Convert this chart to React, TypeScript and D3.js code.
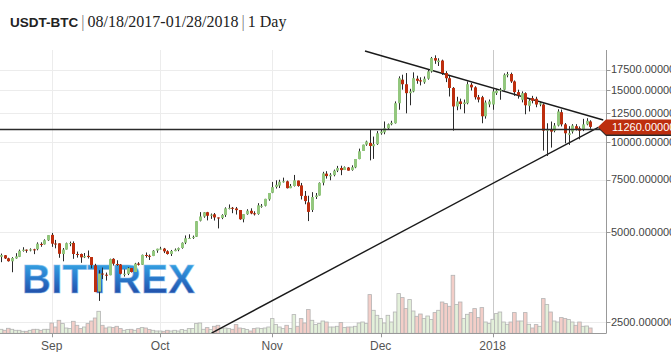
import React from "react";
import * as d3 from "d3";

const startDate = new Date(2017, 7, 18);

const open = [
  4138, 4189, 4090, 3998, 4089, 4138, 4333, 4372, 4346, 4384,
  4389, 4570, 4556, 4702, 4901, 4585, 4592, 4228, 4377, 4589,
  4605, 4230, 4229, 4122, 4169, 4132, 3875, 3166, 3638, 3606,
  3591, 4074, 3916, 3901, 3628, 3630, 3796, 3682, 3928, 3892,
  4197, 4172, 4166, 4341, 4396, 4408, 4319, 4230, 4324, 4369,
  4430, 4615, 4776, 4789, 4830, 5464, 5644, 5836, 5688, 5742,
  5604, 5584, 5708, 5997, 6037, 6006, 5936, 5525, 5748, 5900,
  5788, 5754, 6115, 6132, 6441, 6778, 7088, 7164, 7405, 7403,
  7023, 7141, 7447, 7174, 6619, 6295, 5938, 6561, 6635, 7323,
  7854, 7697, 7766, 8039, 8206, 8078, 8232, 8074, 8242, 8789,
  9353, 9823, 9950, 9700, 9860, 10720, 10800, 11140, 11490, 11580,
  13510, 16200, 15640, 14600, 14800, 16320, 16120, 15880, 16320, 17270,
  19130, 18550, 18770, 17050, 16380, 15200, 13180, 13700, 13430, 13510,
  15580, 15270, 14150, 14150, 12220, 13380, 13380, 14600, 14880, 14990,
  16760, 16920, 15980, 14720, 13880, 14600, 13240, 14060, 13980, 13380,
  13380, 10960, 11030, 10920, 11380, 12610, 11480, 10590, 10860, 11320,
  11140, 11000, 11480, 11740,
];
const high = [
  4243, 4196, 4109, 4129, 4256, 4376, 4456, 4379, 4417, 4404,
  4626, 4627, 4736, 4892, 4975, 4714, 4592, 4428, 4617, 4655,
  4661, 4309, 4245, 4262, 4345, 4132, 3921, 3733, 3809, 3665,
  4079, 4094, 4031, 3916, 3758, 3819, 3796, 3950, 3970, 4210,
  4279, 4215, 4358, 4404, 4470, 4432, 4352, 4363, 4413, 4444,
  4624, 4879, 4922, 4874, 5447, 5840, 5838, 5852, 5776, 5800,
  5604, 5744, 6060, 6195, 6076, 6076, 5936, 5754, 5971, 6013,
  5877, 6256, 6215, 6470, 6767, 7367, 7461, 7493, 7617, 7446,
  7253, 7776, 7447, 7312, 6873, 6625, 6811, 6765, 7342, 7967,
  8005, 7885, 8102, 8337, 8349, 8302, 8267, 8374, 8791, 9523,
  9818, 10126, 11000, 10450, 10900, 11000, 11740, 11550, 11800, 13700,
  16620, 16830, 17050, 15100, 17140, 16700, 16500, 16600, 17500, 19300,
  19540, 19100, 18900, 17300, 16700, 15300, 14200, 14000, 13900, 15980,
  15800, 15400, 14400, 14300, 13800, 13900, 15200, 15100, 15200, 17000,
  17200, 17100, 16100, 15000, 14800, 14700, 14000, 14300, 14200, 13700,
  13500, 11580, 11735, 11600, 12900, 12870, 11600, 11320, 11500, 11500,
  11300, 11980, 12040, 11850,
];
const low = [
  3971, 4070, 3989, 3675, 4078, 4130, 4307, 4270, 4317, 4225,
  4352, 4471, 4549, 4679, 4469, 4418, 4108, 3998, 4377, 4491,
  4075, 4114, 3951, 4099, 4085, 3790, 3154, 2947, 3488, 3446,
  3591, 3869, 3858, 3614, 3554, 3595, 3667, 3682, 3870, 3885,
  4110, 4039, 4161, 4270, 4377, 4259, 4210, 4164, 4321, 4321,
  4406, 4564, 4765, 4752, 4822, 5437, 5592, 5479, 5544, 5473,
  5151, 5531, 5627, 5965, 5792, 5732, 5504, 5398, 5722, 5746,
  5689, 5725, 6041, 6103, 6378, 6759, 7003, 7031, 7333, 7007,
  7023, 7114, 7102, 6437, 6204, 5450, 5844, 6462, 6635, 7177,
  7561, 7463, 7694, 7949, 7763, 8075, 8039, 8033, 8191, 8776,
  9353, 9736, 8700, 8800, 9800, 10600, 10640, 11050, 11400, 11550,
  12850, 15000, 12500, 13300, 14700, 15700, 15500, 15700, 16200, 17100,
  18300, 18000, 16800, 15900, 14230, 10940, 12800, 12900, 12500, 13400,
  14900, 13900, 13600, 11580, 12000, 13100, 12850, 14400, 13880, 14900,
  16500, 15800, 14300, 14000, 13600, 12410, 12680, 13500, 13100, 13200,
  9380, 9000, 9600, 10800, 11300, 11300, 9920, 9800, 10700, 10950,
  10230, 10900, 11400, 11100,
];
const close = [
  4194, 4088, 4002, 4101, 4152, 4335, 4372, 4352, 4383, 4383,
  4579, 4565, 4703, 4892, 4579, 4583, 4236, 4377, 4597, 4600,
  4229, 4226, 4123, 4161, 4131, 3883, 3155, 3638, 3625, 3583,
  4065, 3925, 3906, 3631, 3631, 3792, 3683, 3926, 3893, 4201,
  4175, 4163, 4339, 4404, 4409, 4317, 4229, 4328, 4371, 4427,
  4610, 4772, 4782, 4826, 5447, 5647, 5832, 5678, 5726, 5606,
  5591, 5709, 6011, 6032, 6008, 5930, 5527, 5751, 5905, 5781,
  5753, 6154, 6131, 6468, 6767, 7079, 7208, 7380, 7407, 7023,
  7144, 7460, 7144, 6618, 6358, 5850, 6559, 6636, 7316, 7872,
  7709, 7790, 8036, 8201, 8071, 8254, 8039, 8254, 8791, 9331,
  9818, 10059, 9720, 9860, 10720, 10860, 11140, 11490, 11620, 13510,
  16380, 15640, 14600, 14800, 16380, 16060, 15980, 16320, 17270, 19130,
  18770, 18770, 17050, 16380, 15200, 13180, 13700, 13430, 13590, 15640,
  15270, 14150, 13900, 12220, 13590, 13700, 14800, 14880, 14990, 16830,
  16920, 15980, 14720, 14360, 14600, 13300, 13770, 13770, 13380, 13510,
  10940, 11020, 10860, 11380, 12680, 11480, 10720, 10720, 11380, 11090,
  10940, 11480, 11800, 11260,
];
const volume = [
  4, 3, 5, 4, 3, 3, 2, 2, 3, 4, 4, 3, 4, 4,
  10.3, 6.3, 13, 9.7, 5.3, 4.7, 12, 8, 4.7, 6.3, 9.7, 12.3, 15.3, 22, 8, 5.3,
  6.3, 5.7, 7, 4.7, 3, 3.7, 4, 3, 4.7, 5.7, 5.3, 3.7, 3, 2.3, 2.3, 2, 3, 2.3,
  3, 2.3, 3.7, 3, 4.7, 4.7, 9.7, 10.3, 4,
  5.7, 3.7, 7, 8, 4.7, 5.3, 4.7, 4, 8.7, 5.3, 4.7, 3.7, 2.3, 4.7, 5.3, 4.7,
  5.3, 6.3, 14.7, 8.7, 6.3, 4.7, 8, 4.7, 18.7, 7, 14.7, 10.3, 23.7, 13, 8.7,
  9.7, 12.3, 11.3, 6.3, 6.3, 7, 10.7, 5.7, 6.3, 6.3, 7, 10.3, 11.3, 9.7, 38.7,
  23, 18, 14.7, 10.3, 18, 11.3, 21.3, 39.7,
  35.7, 24.7, 33.7, 22.3, 17, 19.3, 14.7, 17.3, 13.7, 20.7, 23, 31.3, 29.7, 27,
  58, 28.7, 31.3, 14.7, 19, 20.7, 24.7, 15.7, 25.7, 11.3, 9.7, 14, 19.7, 21.3,
  11.3, 9, 11.3, 20.7, 12.3, 12.3, 20.7, 9, 5.3, 8.7, 7, 34.7, 28.7, 21.3, 12.3,
  11.3, 15.7, 14.7, 13.7, 11.3, 8, 11.3, 7, 7.3, 5.3,
];

const yTicks = [2500, 5000, 7500, 10000, 12500, 15000, 17500];
const xTicks = [
  new Date(2017, 8, 1),
  new Date(2017, 9, 1),
  new Date(2017, 10, 1),
  new Date(2017, 11, 1),
  new Date(2018, 0, 1),
];
const lastPrice = 11260;
const supportLevel = 11120;
const trendDown = [
  { date: new Date(2017, 10, 26, 16), value: 20210 },
  { date: new Date(2018, 0, 31, 14), value: 11870 },
];
const trendUp = [
  { date: new Date(2017, 9, 15, 5), value: 2301 },
  { date: new Date(2018, 0, 30, 5), value: 11225 },
];
const titleSymbol = "USDT-BTC";
const titleRange = "08/18/2017-01/28/2018";
const titleInterval = "1 Day";
const logoText = "BITTREX";

export default function App() {
  const W = 671;
  const H = 352;
  const plotR = 606.5;
  const plotT = 50;
  const plotB = 333.3;

  const x = d3.scaleTime().domain([xTicks[0], xTicks[4]]).range([51.7, 492.7]);
  const y = d3.scaleLog().domain([2296, 20360]).range([plotB, plotT]);
  const yv = d3.scaleLinear().domain([0, 60]).range([plotB, plotB - 60]);

  const dates = open.map((_, i) => d3.timeDay.offset(startDate, i));
  const fmtX = (d: Date) => (d.getMonth() === 0 ? d3.timeFormat("%Y")(d) : d3.timeFormat("%b")(d));
  const fmtY = (v: number) => d3.format(".6f")(v);

  const green = "#93c77e";
  const red = "#bd2e0e";
  const lineGen = d3
    .line<{ date: Date; value: number }>()
    .x((d) => x(d.date))
    .y((d) => y(d.value));

  const yc = y(lastPrice);
  const sup = Math.round(y(supportLevel)) + 0.5;

  return (
    <div>
      <style>{"body{margin:0}"}</style>
      <svg width={W} height={H} style={{ display: "block", background: "#fff" }}>
        <defs>
          <clipPath id="plot">
            <rect x={0} y={plotT} width={plotR} height={plotB - plotT} />
          </clipPath>
          <linearGradient id="logoGrad" x1="0" y1="0" x2="0" y2="1">
            <stop offset="0%" stopColor="#3bb6ec" />
            <stop offset="45%" stopColor="#2a7fcf" />
            <stop offset="100%" stopColor="#1f3b9a" />
          </linearGradient>
        </defs>

        {/* title */}
        <text x={10} y={27} fontSize={16} fill="#222">
          <tspan fontFamily="'Liberation Sans', Arial, sans-serif" fontWeight="bold" fontSize={13.5}>
            {titleSymbol}
          </tspan>
          <tspan fontFamily="'Liberation Serif', Georgia, serif" fill="#777" dx={3}>|</tspan>
          <tspan fontFamily="'Liberation Serif', Georgia, serif" dx={3}>{titleRange}</tspan>
          <tspan fontFamily="'Liberation Serif', Georgia, serif" fill="#777" dx={3}>|</tspan>
          <tspan fontFamily="'Liberation Serif', Georgia, serif" dx={3}>{titleInterval}</tspan>
        </text>

        {/* grid */}
        <g>
          {yTicks.map((t) => (
            <line key={t} x1={0} x2={plotR} y1={Math.round(y(t)) + 0.5} y2={Math.round(y(t)) + 0.5} stroke="#ececec" />
          ))}
          {xTicks.map((t, i) => (
            <line
              key={i}
              x1={Math.round(x(t)) + 0.5}
              x2={Math.round(x(t)) + 0.5}
              y1={plotT}
              y2={plotB}
              stroke={t.getMonth() === 0 ? "#c9c9c9" : "#ececec"}
            />
          ))}
        </g>

        {/* logo */}
        <text
          x={22}
          y={292.5}
          fontFamily="'Liberation Sans', Arial, sans-serif"
          fontWeight="bold"
          fontSize={40}
          fill="url(#logoGrad)"
          stroke="#8fc0ee"
          strokeOpacity={0.55}
          strokeWidth={1}
          letterSpacing={0.3}
        >
          {logoText}
        </text>

        <g clipPath="url(#plot)">
          {/* volume */}
          {volume.map((v, i) => {
            const cx = x(dates[i]);
            const up = close[i] >= open[i];
            return (
              <rect
                key={i}
                x={cx - 1.8}
                y={yv(v)}
                width={3.6}
                height={plotB - yv(v)}
                fill={up ? "#e3f0da" : "#f3cec8"}
                stroke="#b4b4b4"
                strokeWidth={0.8}
              />
            );
          })}

          {/* trend lines */}
          <path d={lineGen(trendDown) || ""} stroke="#1a1a1a" strokeWidth={1.4} fill="none" />
          <path d={lineGen(trendUp) || ""} stroke="#1a1a1a" strokeWidth={1.4} fill="none" />

          {/* candles */}
          {open.map((o, i) => {
            const cx = Math.round(x(dates[i]));
            const c = close[i];
            const up = c >= o;
            const top = y(Math.max(o, c));
            const bot = y(Math.min(o, c));
            return (
              <g key={i}>
                <line x1={cx + 0.5} x2={cx + 0.5} y1={y(high[i])} y2={y(low[i])} stroke="#2a2a2a" strokeWidth={1} />
                <rect x={cx - 1} y={top} width={3} height={Math.max(1, bot - top)} fill={up ? green : red} />
              </g>
            );
          })}
        </g>

        {/* support line */}
        <line x1={0} x2={plotR} y1={sup} y2={sup} stroke="#2b2b2b" strokeWidth={1.6} />

        {/* axes */}
        <line x1={plotR} x2={plotR} y1={plotT} y2={plotB} stroke="#999" />
        <line x1={0} x2={plotR} y1={Math.round(plotB) + 0.5} y2={Math.round(plotB) + 0.5} stroke="#999" />
        {yTicks.map((t) => (
          <g key={t}>
            <line x1={plotR} x2={plotR + 4} y1={Math.round(y(t)) + 0.5} y2={Math.round(y(t)) + 0.5} stroke="#999" />
            <text
              x={611}
              y={y(t)}
              dy="0.35em"
              fontFamily="'Liberation Sans', Arial, sans-serif"
              fontSize={11}
              fill="#444"
            >
              {fmtY(t)}
            </text>
          </g>
        ))}
        {xTicks.map((t, i) => (
          <g key={i}>
            <line x1={Math.round(x(t)) + 0.5} x2={Math.round(x(t)) + 0.5} y1={plotB} y2={plotB + 4} stroke="#999" />
            <text
              x={x(t)}
              y={350}
              textAnchor="middle"
              fontFamily="'Liberation Sans', Arial, sans-serif"
              fontSize={12}
              fill="#555"
            >
              {fmtX(t)}
            </text>
          </g>
        ))}

        {/* last price tag */}
        <path
          d={`M598,${yc + 1} L606,${yc - 6.5} L${W},${yc - 6.5} L${W},${yc + 9} L606,${yc + 9} Z`}
          fill="#2a2a2a"
        />
        <path
          d={`M598,${yc} L606,${yc - 7.5} L${W},${yc - 7.5} L${W},${yc + 7.5} L606,${yc + 7.5} Z`}
          fill={red}
        />
        <text
          x={612}
          y={yc}
          dy="0.35em"
          fontFamily="'Liberation Sans', Arial, sans-serif"
          fontSize={11}
          fill="#fff"
        >
          {fmtY(lastPrice)}
        </text>
      </svg>
    </div>
  );
}
